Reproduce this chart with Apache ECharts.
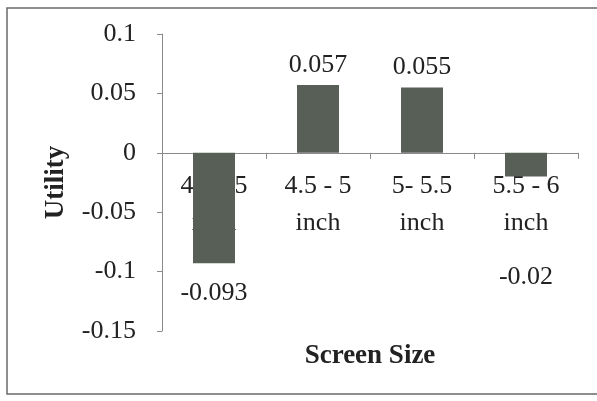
<!DOCTYPE html>
<html>
<head>
<meta charset="utf-8">
<script src="https://cdn.jsdelivr.net/npm/echarts@6/dist/echarts.min.js"></script>
<style>
  html, body { margin: 0; padding: 0; background: #fff; }
  #chart { width: 597px; height: 401px; }
</style>
</head>
<body>
<div id="chart"></div>
<script>
// Screen-size utility values
const categories = ['4 - 4.5\ninch', '4.5 - 5\ninch', '5- 5.5\ninch', '5.5 - 6\ninch'];
const utilities = [-0.093, 0.057, 0.055, -0.02];
// distance of each value label from its bar end
const labelGaps = [17, 7, 7, 88];
const yMin = -0.15, yMax = 0.1, yStep = 0.05;

const FONT = '"Liberation Serif", "Times New Roman", "DejaVu Serif", serif';
const INK = '#222';
const AXIS = '#8a8a8a';

const W = 597, H = 401;
const gridBox = { left: 162, right: 19, top: 34, bottom: 70 };
const plotH = H - gridBox.top - gridBox.bottom;
// the category axis sits on the zero line: shift it up from the grid bottom
const zeroLift = plotH * (0 - yMin) / (yMax - yMin);

const chart = echarts.init(document.getElementById('chart'), null, { renderer: 'canvas' });

chart.setOption({
  animation: false,
  backgroundColor: '#fff',
  grid: Object.assign({ containLabel: false, outerBoundsMode: 'none' }, gridBox),
  xAxis: {
    type: 'category',
    data: categories,
    position: 'bottom',
    offset: -zeroLift,
    axisLine: { onZero: false, lineStyle: { color: AXIS, width: 1 } },
    axisTick: { show: true, alignWithLabel: false, length: 6, lineStyle: { color: AXIS } },
    axisLabel: {
      interval: 0,
      margin: 15,
      color: INK,
      fontFamily: FONT,
      fontSize: 26,
      lineHeight: 37
    },
    splitLine: { show: false }
  },
  yAxis: {
    type: 'value',
    min: yMin,
    max: yMax,
    interval: yStep,
    name: 'Utility',
    nameLocation: 'middle',
    nameGap: 92,
    nameRotate: 90,
    nameTextStyle: { color: INK, fontFamily: FONT, fontSize: 27, fontWeight: 'bold' },
    axisLine: { show: true, lineStyle: { color: AXIS, width: 1 } },
    axisTick: { show: true, length: 5, lineStyle: { color: AXIS } },
    axisLabel: {
      margin: 26,
      color: INK,
      fontFamily: FONT,
      fontSize: 26,
      formatter: v => String(Math.round(v * 100) / 100)
    },
    splitLine: { show: false }
  },
  series: [{
    type: 'bar',
    barWidth: 42,
    itemStyle: { color: '#585f57' },
    data: utilities.map((v, i) => ({
      value: v,
      label: {
        show: true,
        position: v >= 0 ? 'top' : 'bottom',
        distance: labelGaps[i],
        formatter: String(v),
        color: INK,
        fontFamily: FONT,
        fontSize: 26
      }
    }))
  }],
  graphic: [
    {
      type: 'rect',
      shape: { x: 7, y: 8, width: 600, height: 386 },
      style: { fill: 'none', stroke: '#6a6a6a', lineWidth: 1.5 },
      silent: true
    },
    {
      type: 'text',
      x: 370,
      y: 356,
      style: {
        text: 'Screen Size',
        fill: INK,
        font: 'bold 27px ' + FONT,
        textAlign: 'center',
        textVerticalAlign: 'middle'
      }
    }
  ]
});
</script>
</body>
</html>
